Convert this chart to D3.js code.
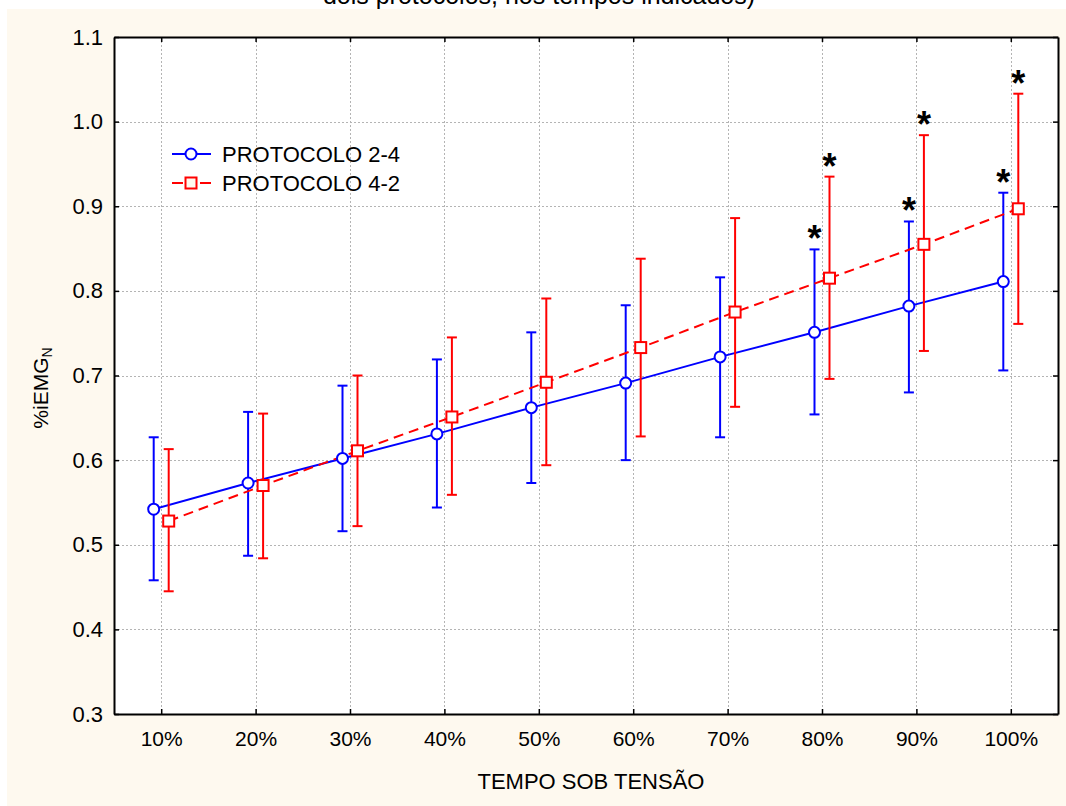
<!DOCTYPE html>
<html>
<head>
<meta charset="utf-8">
<script src="https://cdn.jsdelivr.net/npm/d3@7"></script>
<style>
  html, body { margin: 0; padding: 0; background: #ffffff; }
  svg { display: block; font-family: "Liberation Sans", Arial, sans-serif; }
</style>
</head>
<body>
<svg id="chart" width="1066" height="806"></svg>
<script>
// ---- data ----
const categories = ["10%", "20%", "30%", "40%", "50%", "60%", "70%", "80%", "90%", "100%"];
const p24Mean = [0.542, 0.573, 0.602, 0.631, 0.662, 0.691, 0.722, 0.751, 0.782, 0.811];
const p24Low  = [0.458, 0.487, 0.516, 0.544, 0.573, 0.600, 0.627, 0.654, 0.680, 0.706];
const p24High = [0.627, 0.657, 0.688, 0.719, 0.751, 0.783, 0.816, 0.849, 0.882, 0.916];
const p42Mean = [0.528, 0.570, 0.611, 0.651, 0.692, 0.733, 0.775, 0.815, 0.855, 0.897];
const p42Low  = [0.445, 0.484, 0.522, 0.559, 0.594, 0.628, 0.663, 0.696, 0.729, 0.761];
const p42High = [0.613, 0.655, 0.700, 0.745, 0.791, 0.838, 0.886, 0.935, 0.984, 1.033];
const significant = ["80%", "90%", "100%"];
const yTicks = [0.3, 0.4, 0.5, 0.6, 0.7, 0.8, 0.9, 1.0, 1.1];
const seriesNames = ["PROTOCOLO 2-4", "PROTOCOLO 4-2"];
const titleText = "dois protocolos, nos tempos indicados)";
const xTitle = "TEMPO SOB TENSÃO";

// ---- layout ----
const L = 114, R = 1058, T = 37, B = 714;
const svg = d3.select("#chart");

svg.append("rect").attr("x", 7).attr("y", 9).attr("width", 1059).attr("height", 797).attr("fill", "#fef9ef");
svg.append("text").attr("x", 539).attr("y", 4).attr("text-anchor", "middle")
  .attr("font-size", 25).attr("fill", "#000").text(titleText);

svg.append("rect").attr("x", L).attr("y", T).attr("width", R - L).attr("height", B - T).attr("fill", "#ffffff");

const x = d3.scalePoint().domain(categories).range([L, R]).padding(0.5);
const y = d3.scaleLinear().domain([0.3, 1.1]).range([B, T]);

// grid
const grid = svg.append("g").attr("stroke", "#b4b4b4").attr("stroke-width", 1).attr("stroke-dasharray", "2,2");
grid.selectAll("line.v").data(categories).join("line")
  .attr("x1", d => Math.round(x(d)) + 0.5).attr("x2", d => Math.round(x(d)) + 0.5)
  .attr("y1", T).attr("y2", B);
grid.selectAll("line.h").data(yTicks.slice(1, -1)).join("line")
  .attr("y1", d => Math.round(y(d)) + 0.5).attr("y2", d => Math.round(y(d)) + 0.5)
  .attr("x1", L).attr("x2", R);

// axes
function styleAxis(g, showLabels, fs) {
  g.select(".domain").attr("stroke", "#000").attr("stroke-width", 2);
  g.selectAll(".tick line").attr("stroke", "#000").attr("stroke-width", 1.5);
  g.selectAll(".tick text").attr("fill", "#000").attr("font-size", fs)
    .attr("font-family", "Liberation Sans, Arial, sans-serif");
  if (!showLabels) g.selectAll(".tick text").remove();
}
svg.append("g").attr("transform", `translate(${L},0)`)
  .call(d3.axisLeft(y).tickValues(yTicks).tickFormat(d3.format(".1f")).tickSizeInner(-5).tickSizeOuter(0).tickPadding(11))
  .call(g => styleAxis(g, true, 22));
svg.append("g").attr("transform", `translate(${R},0)`)
  .call(d3.axisRight(y).tickValues(yTicks).tickSizeInner(-5).tickSizeOuter(0))
  .call(g => styleAxis(g, false, 21));
svg.append("g").attr("transform", `translate(0,${B})`)
  .call(d3.axisBottom(x).tickSizeInner(-5).tickSizeOuter(0).tickPadding(17))
  .call(g => styleAxis(g, true, 21));
svg.append("g").attr("transform", `translate(0,${T})`)
  .call(d3.axisTop(x).tickSizeInner(-5).tickSizeOuter(0))
  .call(g => styleAxis(g, false, 21));

// titles
svg.append("text").attr("x", 591).attr("y", 789).attr("text-anchor", "middle")
  .attr("font-size", 22).attr("fill", "#000").text(xTitle);
const yl = svg.append("text").attr("transform", "translate(48,388) rotate(-90)")
  .attr("text-anchor", "middle").attr("font-size", 21).attr("fill", "#000");
yl.append("tspan").text("%iEMG");
yl.append("tspan").attr("font-size", 14).attr("dy", 4).text("N");

// series
const series = [
  { name: seriesNames[0], mean: p24Mean, low: p24Low, high: p24High, color: "#0000ff", dash: null, off: -7.5, shape: "circle" },
  { name: seriesNames[1], mean: p42Mean, low: p42Low, high: p42High, color: "#ff0000", dash: "10,6", off: 7.5, shape: "square" }
];

const line = d3.line().x(d => d[0]).y(d => d[1]);

series.forEach(s => {
  const pts = categories.map((c, i) => [x(c) + s.off, y(s.mean[i])]);
  const g = svg.append("g");
  g.append("path").datum(pts).attr("d", line).attr("fill", "none")
    .attr("stroke", s.color).attr("stroke-width", 2).attr("stroke-dasharray", s.dash);
  // error bars
  categories.forEach((c, i) => {
    const cx = x(c) + s.off;
    g.append("line").attr("x1", cx).attr("x2", cx).attr("y1", y(s.low[i])).attr("y2", y(s.high[i]))
      .attr("stroke", s.color).attr("stroke-width", 2);
    [s.low[i], s.high[i]].forEach(v => {
      g.append("line").attr("x1", cx - 5).attr("x2", cx + 5).attr("y1", y(v)).attr("y2", y(v))
        .attr("stroke", s.color).attr("stroke-width", 2);
    });
  });
  s.pts = pts;
});

series.forEach(s => {
  const g = svg.append("g");
  s.pts.forEach(p => drawMarker(g, s, p[0], p[1], "#ffffff"));
  // significance stars
  categories.forEach((c, i) => {
    if (significant.includes(c)) {
      svg.append("text").attr("x", x(c) + s.off).attr("y", y(s.high[i]) + 2)
        .attr("text-anchor", "middle").attr("font-size", 36).attr("font-weight", "bold")
        .attr("fill", "#000").text("*");
    }
  });
});

function drawMarker(g, s, cx, cy, fill) {
  if (s.shape === "circle") {
    g.append("circle").attr("cx", cx).attr("cy", cy).attr("r", 5.5)
      .attr("fill", fill).attr("stroke", s.color).attr("stroke-width", 2);
  } else {
    g.append("rect").attr("x", cx - 5.5).attr("y", cy - 5.5).attr("width", 11).attr("height", 11)
      .attr("fill", fill).attr("stroke", s.color).attr("stroke-width", 2);
  }
}

// legend
const legRows = [154, 183];
series.forEach((s, i) => {
  const g = svg.append("g");
  g.append("line").attr("x1", 172).attr("x2", 211).attr("y1", legRows[i]).attr("y2", legRows[i])
    .attr("stroke", s.color).attr("stroke-width", 2).attr("stroke-dasharray", s.dash ? "11,17" : null);
  drawMarker(g, s, 191, legRows[i], i === 0 ? "#ffffff" : "#fef9ef");
  g.append("text").attr("x", 222).attr("y", legRows[i] + 8).attr("font-size", 22).attr("fill", "#000").text(s.name);
});
</script>
</body>
</html>
